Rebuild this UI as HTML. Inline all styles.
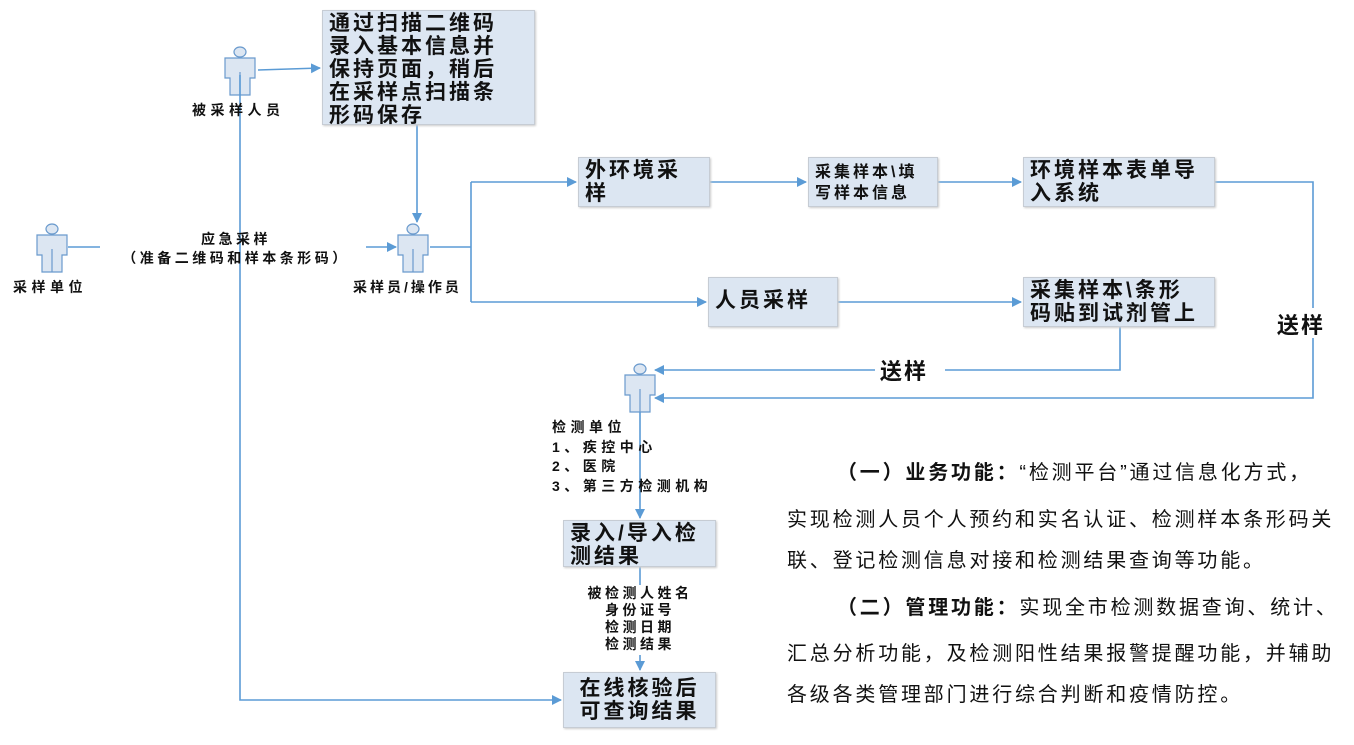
<!DOCTYPE html>
<html><head><meta charset="utf-8">
<style>
body{margin:0;width:1354px;height:745px;background:#fff;position:relative;overflow:hidden;font-family:"Liberation Sans","Noto Sans CJK SC",sans-serif;}
.b{position:absolute;background:#dce6f2;border:1px solid #c6ccd4;box-shadow:1px 1px 2px #ccc;box-sizing:border-box;font-weight:bold;color:#111;padding:1px 6px;font-size:21px;letter-spacing:3px;line-height:23px;white-space:nowrap;}
.t{position:absolute;font-weight:bold;color:#111;font-size:14px;letter-spacing:4.5px;white-space:nowrap;}
.p{position:absolute;left:787px;font-size:20px;letter-spacing:2.8px;color:#111;white-space:nowrap;}
</style></head><body>
<svg width="1354" height="745" style="position:absolute;left:0;top:0">
<defs>
<marker id="a" markerWidth="10" markerHeight="10" refX="9" refY="5" orient="auto" markerUnits="userSpaceOnUse"><path d="M0,0 L10,5 L0,10 z" fill="#5b9bd5"/></marker>
<g id="p"><ellipse cx="0" cy="-18" rx="6" ry="5" fill="#dce6f2" stroke="#6a9acd" stroke-width="1.2"/><path d="M-15,-12 H15 V8 H10 V25 H-10 V8 H-15 Z" fill="#dce6f2" stroke="#6a9acd" stroke-width="1.2"/><path d="M0,2 V25" stroke="#6a9acd" stroke-width="1.2"/></g>
</defs>
<use href="#p" x="240" y="70"/>
<use href="#p" x="52" y="247"/>
<use href="#p" x="413" y="247"/>
<use href="#p" x="640" y="387"/>
<rect x="1290" y="308" width="46" height="30" fill="#fff"/>
<rect x="875" y="355" width="70" height="28" fill="#fff"/>
<rect x="583" y="585" width="112" height="70" fill="#fff"/>
<g stroke="#5b9bd5" stroke-width="1.6" fill="none">
<path d="M258,70 L320,68" marker-end="url(#a)"/>
<path d="M240,75 V700 H561" marker-end="url(#a)"/>
<path d="M417,125 V222" marker-end="url(#a)"/>
<path d="M68,247 H100"/>
<path d="M366,247 H396" marker-end="url(#a)"/>
<path d="M430,247 H471"/>
<path d="M471,182 V302"/>
<path d="M471,182 H576" marker-end="url(#a)"/>
<path d="M471,302 H706" marker-end="url(#a)"/>
<path d="M710,182 H806" marker-end="url(#a)"/>
<path d="M938,182 H1021" marker-end="url(#a)"/>
<path d="M838,302 H1021" marker-end="url(#a)"/>
<path d="M1215,182 H1313 V308 M1313,338 V398 H655" marker-end="url(#a)"/>
<path d="M1120,327 V370 H945 M875,370 H655" marker-end="url(#a)"/>
<path d="M640,412 V518" marker-end="url(#a)"/>
<path d="M640,567 V585 M640,655 V670" marker-end="url(#a)"/>
</g>
</svg>
<div class="b" style="left:322px;top:10px;width:213px;height:115px;line-height:23px;">通过扫描二维码<br>录入基本信息并<br>保持页面，稍后<br>在采样点扫描条<br>形码保存</div>
<div class="b" style="left:578px;top:157px;width:132px;height:50px;">外环境采<br>样</div>
<div class="b" style="left:808px;top:157px;width:130px;height:50px;font-size:16px;letter-spacing:3px;line-height:21px;padding-top:4px;">采集样本\填<br>写样本信息</div>
<div class="b" style="left:1023px;top:157px;width:192px;height:50px;">环境样本表单导<br>入系统</div>
<div class="b" style="left:708px;top:277px;width:130px;height:50px;line-height:44px;">人员采样</div>
<div class="b" style="left:1023px;top:277px;width:192px;height:50px;">采集样本\条形<br>码贴到试剂管上</div>
<div class="b" style="left:563px;top:520px;width:153px;height:47px;">录入/导入检<br>测结果</div>
<div class="b" style="left:563px;top:672px;width:153px;height:56px;padding-top:4px;text-align:center;">在线核验后<br>可查询结果</div>
<div class="t" style="left:192px;top:100px;">被采样人员</div>
<div class="t" style="left:13px;top:277px;">采样单位</div>
<div class="t" style="left:353px;top:277px;letter-spacing:3px;">采样员/操作员</div>
<div class="t" style="left:100px;top:230px;width:272px;text-align:center;line-height:19px;letter-spacing:3.5px;">应急采样<br>（准备二维码和样本条形码）</div>
<div class="t" style="left:552px;top:418px;line-height:19.5px;">检测单位<br>1、疾控中心<br>2、医院<br>3、第三方检测机构</div>
<div class="t" style="left:580px;top:585px;width:120px;text-align:center;line-height:17px;letter-spacing:3.5px;">被检测人姓名<br>身份证号<br>检测日期<br>检测结果</div>
<div class="t" style="left:1277px;top:308px;font-size:22px;letter-spacing:2px;">送样</div>
<div class="t" style="left:880px;top:354px;font-size:22px;letter-spacing:2px;">送样</div>
<div class="p" style="top:456px;"><span style="padding-left:50px;font-weight:bold;">（一）业务功能：</span>“检测平台”通过信息化方式，</div>
<div class="p" style="top:503px;">实现检测人员个人预约和实名认证、检测样本条形码关</div>
<div class="p" style="top:544px;">联、登记检测信息对接和检测结果查询等功能。</div>
<div class="p" style="top:591px;"><span style="padding-left:50px;font-weight:bold;">（二）管理功能：</span>实现全市检测数据查询、统计、</div>
<div class="p" style="top:637px;">汇总分析功能，及检测阳性结果报警提醒功能，并辅助</div>
<div class="p" style="top:678px;">各级各类管理部门进行综合判断和疫情防控。</div>
</body></html>
